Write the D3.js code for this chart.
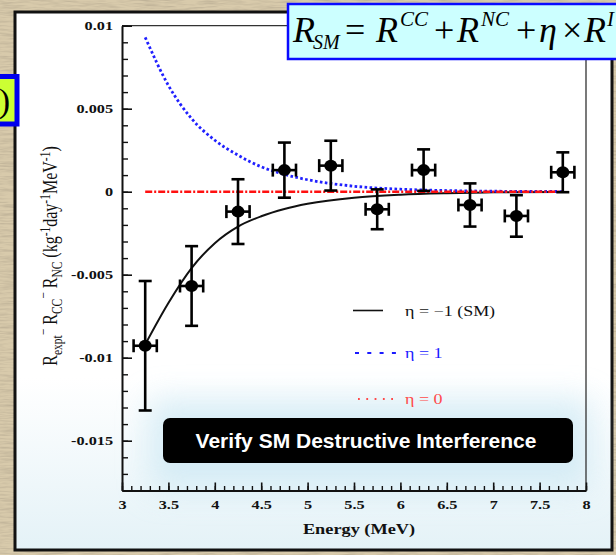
<!DOCTYPE html>
<html>
<head>
<meta charset="utf-8">
<script src="https://cdn.jsdelivr.net/npm/d3@7"></script>
<style>
  html, body { margin: 0; padding: 0; background: #d6c8a8; }
  svg { display: block; }
</style>
</head>
<body>
<svg id="chart" width="616" height="555"></svg>
<script>
// Measured residual rate per energy bin (R_expt - R_CC - R_NC)
const energy = [3.25, 3.75, 4.25, 4.75, 5.25, 5.75, 6.25, 6.75, 7.25, 7.75];
const energyErr = [0.125, 0.125, 0.125, 0.125, 0.125, 0.125, 0.125, 0.125, 0.125, 0.125];
const residual = [-0.00928, -0.00568, -0.0012, 0.0013, 0.00157, -0.00106, 0.0013, -0.0008, -0.00146, 0.00117];
const residualErr = [0.0039, 0.0024, 0.00195, 0.00166, 0.0015, 0.0012, 0.00125, 0.0013, 0.00125, 0.0012];

// Expected interference term for the three hypotheses
const curveEnergy = [3.25, 3.5, 3.75, 4.0, 4.25, 4.5, 4.75, 5.0, 5.5, 6.0, 6.5, 7.0, 7.75];
const etaMinusOne = [-0.0092, -0.0067, -0.0046, -0.0031, -0.0021, -0.00148, -0.00104, -0.00073, -0.00036, -0.00018, -0.00009, -0.00004, -0.00001];
const etaPlusOne = [0.0093, 0.0064, 0.0044, 0.0031, 0.0022, 0.0015, 0.00104, 0.00072, 0.00033, 0.00015, 0.00007, 0.00003, 0.00001];
const etaZero = [0, 0, 0, 0, 0, 0, 0, 0, 0, 0, 0, 0, 0];

// Axis ticks
const xTicks = [3, 3.5, 4, 4.5, 5, 5.5, 6, 6.5, 7, 7.5, 8];
const xTickLabels = ["3", "3.5", "4", "4.5", "5", "5.5", "6", "6.5", "7", "7.5", "8"];
const yTicks = [0.01, 0.005, 0, -0.005, -0.01, -0.015];
const yTickLabels = ["0.01", "0.005", "0", "-0.005", "-0.01", "-0.015"];

const legendLabels = ["η = −1 (SM)", "η = 1", "η = 0"];

const svg = d3.select("#chart");
const defs = svg.append("defs");

// paper texture for the slide background
const paper = defs.append("filter").attr("id", "paper")
  .attr("x", 0).attr("y", 0).attr("width", "100%").attr("height", "100%");
paper.append("feTurbulence").attr("type", "fractalNoise")
  .attr("baseFrequency", "0.05 0.55").attr("numOctaves", 3).attr("seed", 7).attr("result", "n");
paper.append("feColorMatrix").attr("in", "n").attr("type", "matrix")
  .attr("values", "0 0 0 0 0.48  0 0 0 0 0.41  0 0 0 0 0.29  1.6 0 0 0 -0.62");

const panelGrad = defs.append("linearGradient").attr("id", "panelGrad")
  .attr("x1", 0).attr("y1", 0).attr("x2", 0).attr("y2", 1);
panelGrad.append("stop").attr("offset", "0%").attr("stop-color", "#ffffff");
panelGrad.append("stop").attr("offset", "68%").attr("stop-color", "#ffffff");
panelGrad.append("stop").attr("offset", "100%").attr("stop-color", "#e4f2f7");

const glow = defs.append("filter").attr("id", "glow")
  .attr("x", "-30%").attr("y", "-100%").attr("width", "160%").attr("height", "300%");
glow.append("feGaussianBlur").attr("stdDeviation", 16);

// background
svg.append("rect").attr("width", 616).attr("height", 555).attr("fill", "#d8caab");
svg.append("rect").attr("width", 616).attr("height", 555).attr("filter", "url(#paper)");

// white panel
svg.append("rect").attr("x", 15).attr("y", 12).attr("width", 597).attr("height", 538)
  .attr("fill", "url(#panelGrad)").attr("stroke", "#111").attr("stroke-width", 3);

// soft halo behind the caption box
svg.append("rect").attr("x", 150).attr("y", 400).attr("width", 440).attr("height", 90)
  .attr("fill", "#cfe9f4").attr("opacity", 0.8).attr("filter", "url(#glow)");

// ---- plot ----
const x = d3.scaleLinear().domain([3, 8]).range([122, 586]);
const y = d3.scaleLinear().domain([-0.018, 0.01]).range([490.5, 25.7]);
const stretch = 1.25;
const serif = "'Liberation Serif', 'Times New Roman', serif";

const plot = svg.append("g");

// frame (top and right)
plot.append("path")
  .attr("d", `M${x(3)},${y(0.01)}H${x(8)}V${y(-0.018)}`)
  .attr("fill", "none").attr("stroke", "#333").attr("stroke-width", 1.3);

// minor ticks
plot.append("g").attr("transform", `translate(${x(3)},0)`)
  .call(d3.axisLeft(y).tickValues(d3.range(-18, 11).map(v => v / 1000)).tickSize(-6).tickSizeOuter(0).tickFormat(""))
  .call(g => g.select(".domain").remove())
  .call(g => g.selectAll("line").attr("stroke", "#111").attr("stroke-width", 1.4));
plot.append("g").attr("transform", `translate(0,${y(-0.018)})`)
  .call(d3.axisBottom(x).tickValues(d3.range(30, 81).map(v => v / 10)).tickSize(-4.5).tickSizeOuter(0).tickFormat(""))
  .call(g => g.select(".domain").remove())
  .call(g => g.selectAll("line").attr("stroke", "#111").attr("stroke-width", 1.4));

// major ticks + labels
const yAxis = plot.append("g").attr("transform", `translate(${x(3)},0)`)
  .call(d3.axisLeft(y).tickValues(yTicks).tickSize(-10).tickSizeOuter(0)
    .tickFormat((d, i) => yTickLabels[i]));
yAxis.select(".domain").attr("stroke", "#111").attr("stroke-width", 2);
yAxis.selectAll("line").attr("stroke", "#111").attr("stroke-width", 1.6);
yAxis.selectAll("text")
  .attr("x", -9 / stretch).attr("transform", `scale(${stretch},1)`)
  .attr("font-family", serif).attr("font-weight", "bold").attr("font-size", 13).attr("fill", "#111");

const xAxis = plot.append("g").attr("transform", `translate(0,${y(-0.018)})`)
  .call(d3.axisBottom(x).tickValues(xTicks).tickSize(-8).tickSizeOuter(0)
    .tickFormat((d, i) => xTickLabels[i]));
xAxis.select(".domain").attr("stroke", "#111").attr("stroke-width", 2);
xAxis.selectAll("line").attr("stroke", "#111").attr("stroke-width", 1.6);
xAxis.selectAll("text")
  .attr("y", 19).attr("dy", 0).attr("transform", `scale(${stretch},1)`)
  .attr("font-family", serif).attr("font-weight", "bold").attr("font-size", 13).attr("fill", "#111");

// axis titles
plot.append("text")
  .attr("transform", `translate(359,534) scale(1.22,1)`)
  .attr("text-anchor", "middle")
  .attr("font-family", serif).attr("font-weight", "bold").attr("font-size", 15).attr("fill", "#111")
  .text("Energy (MeV)");

const yTitle = plot.append("text")
  .attr("transform", `translate(57,256) scale(${stretch},1) rotate(-90)`)
  .attr("text-anchor", "middle")
  .attr("font-family", serif).attr("font-size", 16).attr("fill", "#111");
const yParts = [
  ["R", 0, 16], ["expt", 4, 11.5], ["−", -11, 11.5], [" R", 7, 16], ["CC", 4, 11.5], ["−", -11, 11.5],
  [" R", 7, 16], ["NC", 4, 11.5], [" (kg", -4, 16], ["-1", -6, 11.5], ["day", 6, 16], ["-1", -6, 11.5],
  ["MeV", 6, 16], ["-1", -6, 11.5], [")", 6, 16]
];
yParts.forEach(([t, dy, fs]) => {
  yTitle.append("tspan").attr("dy", dy).attr("font-size", fs).text(t);
});

// model curves
const curveLine = vals => d3.line()
  .x((d, i) => x(curveEnergy[i]))
  .y(d => y(d))
  .curve(d3.curveMonotoneX)(vals);

plot.append("path").attr("d", curveLine(etaMinusOne))
  .attr("fill", "none").attr("stroke", "#111").attr("stroke-width", 2);
plot.append("path").attr("d", curveLine(etaPlusOne))
  .attr("fill", "none").attr("stroke", "#2020ff").attr("stroke-width", 2.8).attr("stroke-dasharray", "2.6,2.4");
plot.append("path").attr("d", curveLine(etaZero))
  .attr("fill", "none").attr("stroke", "#ff1010").attr("stroke-width", 2.6).attr("stroke-dasharray", "7,2,2,2");

// data points with error bars
const pts = plot.append("g").selectAll("g").data(energy).join("g");
const cap = 6.5;
pts.each(function (e, i) {
  const g = d3.select(this);
  const cx = x(e), cy = y(residual[i]);
  const y0 = y(residual[i] - residualErr[i]), y1 = y(residual[i] + residualErr[i]);
  const x0 = x(e - energyErr[i]), x1 = x(e + energyErr[i]);
  const segs = [
    [cx, y0, cx, y1], [cx - cap, y0, cx + cap, y0], [cx - cap, y1, cx + cap, y1],
    [x0, cy, x1, cy], [x0, cy - cap, x0, cy + cap], [x1, cy - cap, x1, cy + cap]
  ];
  g.selectAll("line").data(segs).join("line")
    .attr("x1", d => d[0]).attr("y1", d => d[1]).attr("x2", d => d[2]).attr("y2", d => d[3])
    .attr("stroke", "#000").attr("stroke-width", 2.6);
  g.append("ellipse").attr("cx", cx).attr("cy", cy).attr("rx", 6.5).attr("ry", 6)
    .attr("fill", "#000");
});

// legend
const legend = plot.append("g");
const legendY = [310.5, 353, 399];
const legendColors = ["#111", "#1a1aff", "#ff4a4a"];
legend.append("line").attr("x1", 353).attr("x2", 383).attr("y1", legendY[0]).attr("y2", legendY[0])
  .attr("stroke", "#111").attr("stroke-width", 1.6);
legend.append("line").attr("x1", 355).attr("x2", 396).attr("y1", legendY[1]).attr("y2", legendY[1])
  .attr("stroke", "#1a1aff").attr("stroke-width", 1.8).attr("stroke-dasharray", "4,8.3");
legend.append("line").attr("x1", 358).attr("x2", 394).attr("y1", legendY[2]).attr("y2", legendY[2])
  .attr("stroke", "#ff4a4a").attr("stroke-width", 1.8).attr("stroke-dasharray", "1.8,6.5");
legendLabels.forEach((t, i) => {
  legend.append("text")
    .attr("transform", `translate(405,${legendY[i] + 5}) scale(1.2,1)`)
    .attr("font-family", serif).attr("font-size", 15).attr("fill", legendColors[i])
    .text(t);
});

// caption box
svg.append("rect").attr("x", 163).attr("y", 418).attr("width", 410).attr("height", 45)
  .attr("rx", 7).attr("fill", "#000");
svg.append("text").attr("x", 366).attr("y", 448).attr("text-anchor", "middle")
  .attr("font-family", "'Liberation Sans', Arial, sans-serif").attr("font-weight", "bold")
  .attr("font-size", 21).attr("fill", "#fff")
  .text("Verify SM Destructive Interference");

// formula box
svg.append("rect").attr("x", 288).attr("y", 4).attr("width", 340).attr("height", 55)
  .attr("fill", "#ccffff").attr("stroke", "#0a0aff").attr("stroke-width", 2.5);
const formula = svg.append("g").attr("font-family", serif).attr("fill", "#000");
const fParts = [
  ["R", 293, 42, 36, "italic"], ["SM", 313, 49, 20, "italic"], ["=", 345, 42, 36, "normal"],
  ["R", 376, 42, 36, "italic"], ["CC", 400, 26, 21, "italic"], ["+", 434, 42, 36, "normal"],
  ["R", 457, 42, 36, "italic"], ["NC", 481, 26, 21, "italic"], ["+", 516, 42, 36, "normal"],
  ["η", 539, 42, 36, "italic"], ["×", 562, 42, 36, "normal"], ["R", 584, 42, 36, "italic"],
  ["I", 607, 26, 21, "italic"]
];
fParts.forEach(([t, fx, fy, fs, st]) => {
  formula.append("text").attr("x", fx).attr("y", fy).attr("font-size", fs).attr("font-style", st).text(t);
});

// side tab on the left edge
svg.append("rect").attr("x", -10).attr("y", 76.5).attr("width", 27).attr("height", 47.5)
  .attr("fill", "#ccff33").attr("stroke", "#0000ee").attr("stroke-width", 5);
svg.append("text").attr("x", 10).attr("y", 112).attr("text-anchor", "end")
  .attr("font-family", serif).attr("font-size", 34).attr("fill", "#000").text(")");
</script>
</body>
</html>
